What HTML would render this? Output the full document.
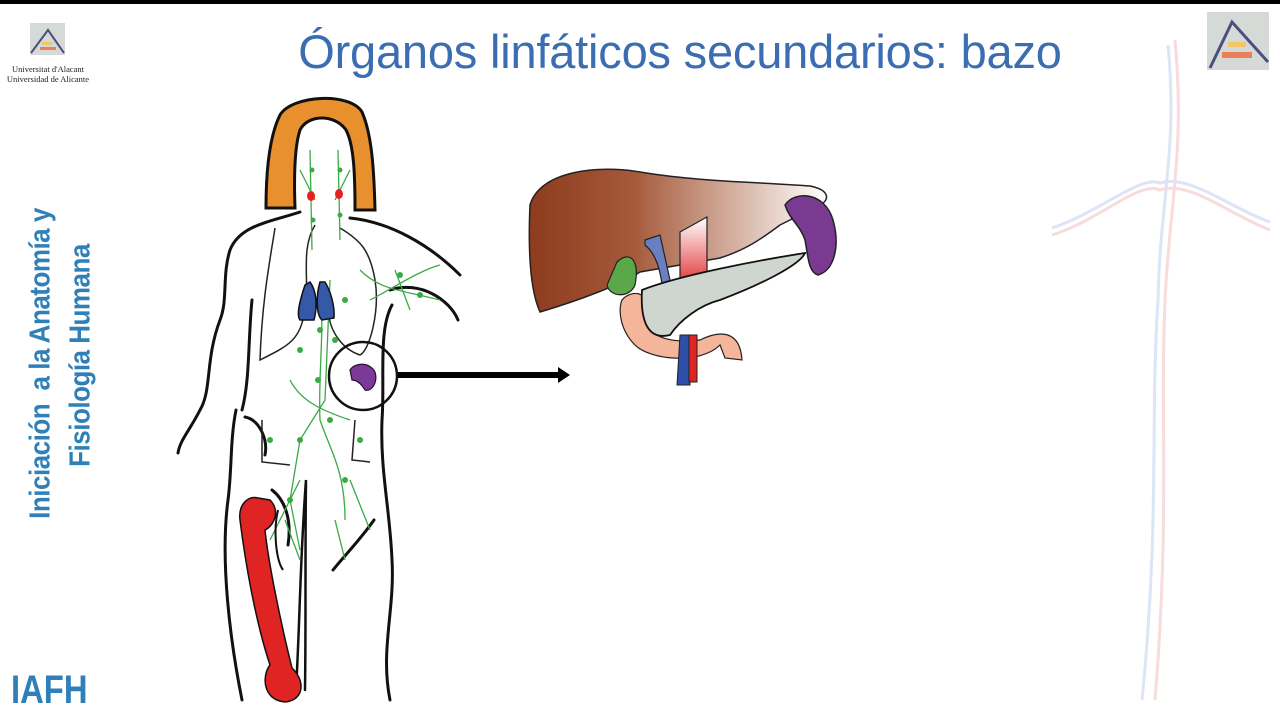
<!DOCTYPE html>
<html><head><meta charset="utf-8"><style>
html,body{margin:0;padding:0;}
body{width:1280px;height:720px;position:relative;overflow:hidden;background:#fff;font-family:"Liberation Sans",sans-serif;}
.top{position:absolute;left:0;top:0;width:1280px;height:4px;background:#000;}
.title{position:absolute;left:180px;width:1000px;top:24px;text-align:center;font-size:47px;color:#3b6db3;white-space:nowrap;letter-spacing:-0.2px;}
.vt{position:absolute;transform:rotate(-90deg) scaleY(1.1);transform-origin:center;white-space:nowrap;font-weight:bold;color:#2f80b9;font-size:26px;letter-spacing:-0.5px;}
.iafh{position:absolute;left:11px;top:668px;font-weight:bold;font-size:40px;color:#2f80b9;transform:scaleX(0.82);transform-origin:left top;}
.uni{position:absolute;left:0;top:64px;width:96px;text-align:center;font-family:"Liberation Serif",serif;font-size:8.5px;line-height:10px;color:#222;}
</style></head><body>
<div class="top"></div>
<div class="title">Órganos linfáticos secundarios: bazo</div>
<div class="uni">Universitat d'Alacant<br>Universidad de Alicante</div>
<div class="vt" style="left:-130px;top:348px;width:340px;text-align:center;">Iniciación&nbsp; a la Anatomía y</div>
<div class="vt" style="left:-50px;top:340px;width:260px;text-align:center;">Fisiología Humana</div>
<div class="iafh">IAFH</div>
<svg width="1280" height="720" style="position:absolute;left:0;top:0">
<rect x="30" y="23" width="35" height="32" fill="#d6dad7"/>
<path d="M31 53 L48 30 L64 53" fill="none" stroke="#4b4f80" stroke-width="2"/>
<rect x="42" y="42" width="10" height="3" fill="#f2c76a"/><rect x="40" y="47" width="16" height="3" fill="#e9805a"/>
<rect x="1207" y="12" width="62" height="58" fill="#d6dad7"/>
<path d="M1210 68 L1232 22 L1268 62" fill="none" stroke="#4b4f80" stroke-width="3"/>
<rect x="1228" y="42" width="18" height="5" fill="#f2c76a"/><rect x="1222" y="52" width="30" height="6" fill="#e9805a"/>
<g fill="none" stroke-width="3" opacity="0.2">
<path d="M1175 40 C1185 150 1170 200 1165 300 C1160 420 1170 520 1155 700" stroke="#e05050"/>
<path d="M1168 45 C1178 150 1160 200 1158 300 C1150 420 1160 520 1142 700" stroke="#5080d0"/>
<path d="M1052 235 C1100 220 1140 180 1160 190 C1190 180 1230 215 1270 230" stroke="#e05050"/>
<path d="M1052 228 C1100 212 1140 175 1160 183 C1190 174 1230 208 1270 222" stroke="#5080d0"/>
</g>
<g fill="none" stroke="#111" stroke-width="3" stroke-linecap="round">
<path d="M300 212 C270 222 240 225 230 250 C222 275 228 300 220 320 C205 360 212 390 200 410 C190 430 180 440 178 453"/>
<path d="M350 218 C390 222 430 245 460 275"/>
<path d="M390 290 C420 280 450 300 458 320"/>
<path d="M392 305 C378 330 385 380 382 420 C380 470 390 510 392 560 C395 610 380 650 390 700"/>
<path d="M252 300 C248 340 250 380 242 410"/>
<path d="M236 410 C230 440 232 470 228 500 C220 560 230 640 242 700"/>
<path d="M305 690 C306 620 305 560 306 480 C300 560 300 620 296 690" stroke-width="2.5"/>
<path d="M245 417 C260 420 268 440 265 455"/>
<path d="M272 490 C285 500 292 520 288 545"/>
<path d="M374 520 C360 540 345 555 333 570"/>
</g>
<g fill="none" stroke="#222" stroke-width="1.5">
<path d="M275 228 C270 260 262 300 260 360 C290 345 300 340 305 310 C310 280 300 250 315 225"/>
<path d="M340 228 C360 240 370 250 375 280 C380 310 370 350 360 355 C345 350 330 335 328 310"/>
<path d="M262 420 L262 462 L290 465"/><path d="M355 420 L352 460 L370 462"/>
</g>
<path d="M266 208 C266 170 270 135 280 115 C292 95 350 92 362 112 C372 135 374 170 375 210 L355 210 C355 175 354 145 346 130 C335 114 308 114 300 130 C294 148 294 180 295 208 Z" fill="#e8902e" stroke="#111" stroke-width="3"/>
<g fill="none" stroke="#3aaa45" stroke-width="1.3">
<path d="M310 150 L312 250 M338 150 L340 240 M300 170 L315 200 M350 170 L335 200"/>
<path d="M320 290 C325 330 318 370 320 420 C330 450 345 470 345 520 M330 280 L325 400 L300 440 L290 500 L300 550"/>
<path d="M360 270 C380 290 400 290 440 300 M370 300 C390 290 420 270 440 265 M395 270 L410 310"/>
<path d="M290 380 C300 400 320 410 350 420 M300 480 L270 540 M350 480 L370 530 M335 520 L345 560 M285 520 L300 560"/>
</g>
<g fill="#3aaa45"><circle cx="312" cy="170" r="2.5"/><circle cx="340" cy="170" r="2.5"/><circle cx="313" cy="220" r="2.5"/><circle cx="340" cy="215" r="2.5"/><circle cx="320" cy="330" r="3"/><circle cx="318" cy="380" r="3"/><circle cx="335" cy="340" r="3"/><circle cx="345" cy="300" r="3"/><circle cx="300" cy="350" r="3"/><circle cx="300" cy="440" r="3"/><circle cx="330" cy="420" r="3"/><circle cx="345" cy="480" r="3"/><circle cx="290" cy="500" r="3"/><circle cx="270" cy="440" r="3"/><circle cx="360" cy="440" r="3"/><circle cx="400" cy="275" r="3"/><circle cx="420" cy="295" r="3"/></g>
<ellipse cx="311" cy="196" rx="4" ry="5" fill="#e82020"/><ellipse cx="339" cy="194" rx="4" ry="5" fill="#e82020"/>
<path d="M305 285 C300 300 296 315 300 320 L314 320 C318 305 316 290 310 282 Z M320 282 C316 295 316 315 322 320 L334 318 C335 305 330 290 325 282 Z" fill="#3558a8" stroke="#111" stroke-width="1.5"/>
<path d="M350 370 C355 362 370 362 375 372 C378 382 372 392 365 390 C362 385 358 380 352 380 Z" fill="#7a3a95" stroke="#2a1030" stroke-width="1.2"/>
<circle cx="363" cy="376" r="34" fill="none" stroke="#111" stroke-width="2.5"/>
<path d="M258 498 C248 495 238 505 240 520 C245 560 255 620 270 665 C262 675 262 700 285 702 C305 700 305 680 292 668 C280 620 268 560 265 530 C275 525 280 510 270 500 Z" fill="#e02424" stroke="#111" stroke-width="1.5"/>
<path d="M278 510 C273 530 276 560 283 570" fill="none" stroke="#111" stroke-width="2"/>
<line x1="398" y1="375" x2="560" y2="375" stroke="#000" stroke-width="6"/>
<polygon points="558,367 570,375 558,383" fill="#000"/>
<defs><linearGradient id="lg" x1="0" x2="1"><stop offset="0" stop-color="#8e3b1e"/><stop offset="0.35" stop-color="#a55a3a"/><stop offset="1" stop-color="#fff"/></linearGradient>
<linearGradient id="rg" x1="0" y1="0" x2="0" y2="1"><stop offset="0" stop-color="#fff"/><stop offset="1" stop-color="#e02424"/></linearGradient></defs>
<path d="M540 312 C530 290 528 250 530 205 C540 170 600 165 640 172 C700 182 760 182 810 186 C830 190 830 200 820 205 L780 225 C760 240 745 250 720 258 L640 272 C620 285 580 300 540 312 Z" fill="url(#lg)" stroke="#222" stroke-width="1.5"/>
<path d="M785 205 C795 190 825 192 833 220 C840 245 835 270 818 275 C808 272 808 255 805 240 C800 225 790 220 785 205 Z" fill="#7a3a92" stroke="#222" stroke-width="1.5"/>
<path d="M617 262 C630 250 640 260 635 285 C630 298 610 298 607 285 Z" fill="#5aa84a" stroke="#222" stroke-width="1.2"/>
<path d="M680 232 L707 217 L707 285 L680 290 Z" fill="url(#rg)" stroke="#222" stroke-width="1.2"/>
<path d="M645 240 L660 235 L670 280 L663 290 C660 270 657 255 645 245 Z" fill="#6a7fc0" stroke="#222" stroke-width="1.2"/>
<path d="M622 300 C630 290 650 290 645 310 C640 330 660 345 700 340 C720 330 740 330 742 360 L725 358 L720 345 C700 365 650 360 635 345 C620 330 618 310 622 300 Z" fill="#f4b59a" stroke="#222" stroke-width="1.2"/>
<path d="M680 335 L690 335 L690 385 L677 385 Z" fill="#2d4fa8" stroke="#222"/><path d="M689 335 L697 335 L697 382 L689 382 Z" fill="#e02424" stroke="#222"/>
<path d="M642 290 C680 275 760 260 805 253 C800 265 760 285 720 300 C700 305 680 320 670 335 C650 340 640 325 642 290 Z" fill="#cfd6d0" stroke="#111" stroke-width="1.8"/>
</svg>
</body></html>
